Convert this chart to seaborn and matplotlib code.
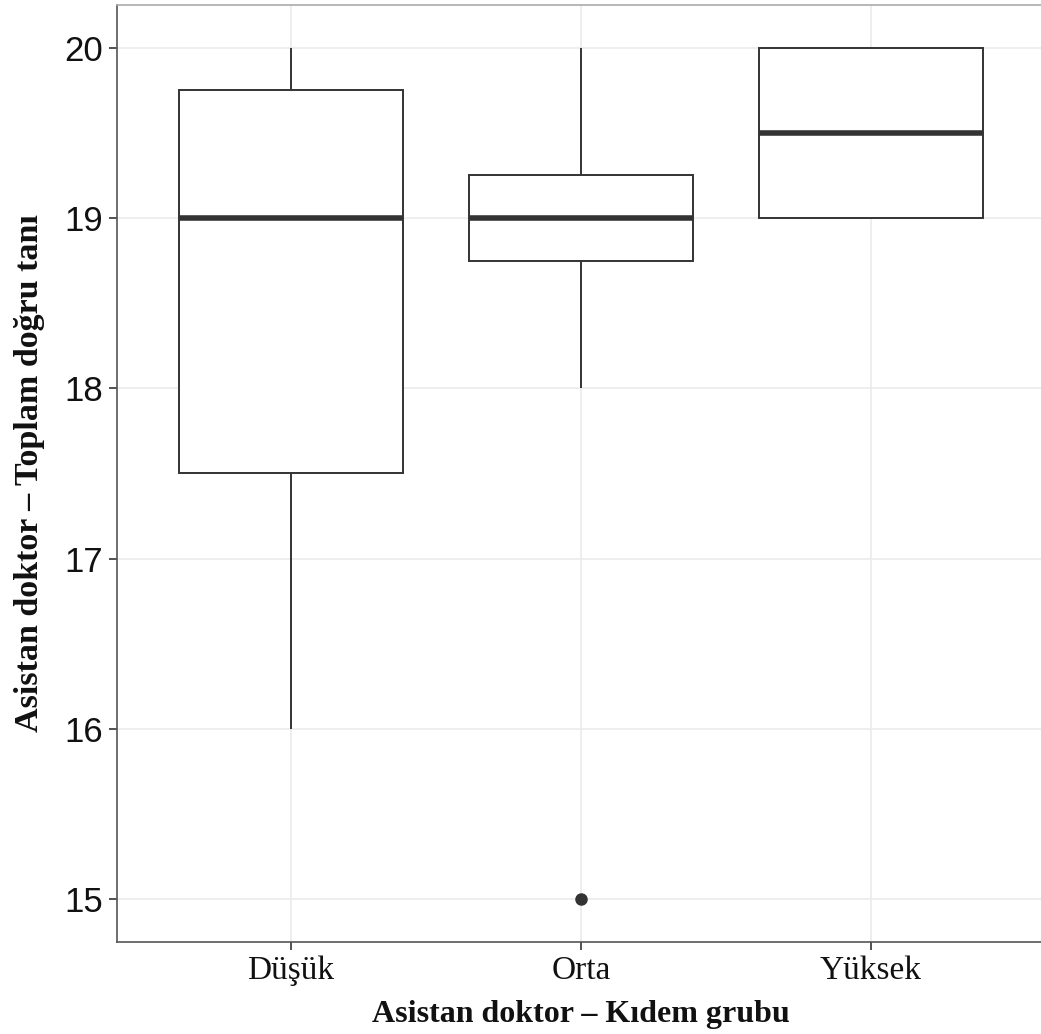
import numpy as np
import pandas as pd
import seaborn as sns
import matplotlib
matplotlib.use("Agg")
import matplotlib.pyplot as plt

categories = ["Düşük", "Orta", "Yüksek"]
dusuk_values = [16, 17, 19, 19, 20, 20]
orta_values = [15, 18, 19, 19, 19, 19, 20, 20]
yuksek_values = [19, 19, 20, 20]
y_ticks = [15, 16, 17, 18, 19, 20]

df = pd.DataFrame({
    "grup": (["Düşük"] * len(dusuk_values) + ["Orta"] * len(orta_values)
             + ["Yüksek"] * len(yuksek_values)),
    "deger": dusuk_values + orta_values + yuksek_values,
})

sns.set_theme(style="white")
plt.rcParams['font.family'] = ['Liberation Sans', 'DejaVu Sans']

fig = plt.figure(figsize=(10.41, 10.34), dpi=100)
ax = fig.add_axes([117 / 1041, 0.089, 928 / 1041, 0.9062])

line_c = "#333333"
sns.boxplot(data=df, x="grup", y="deger", order=categories, ax=ax,
            width=0.77, color="white", linecolor=line_c, linewidth=1.4,
            whis=1.5,
            boxprops=dict(facecolor="white", edgecolor=line_c),
            medianprops=dict(color=line_c, linewidth=4),
            whiskerprops=dict(color=line_c, linewidth=1.4),
            capprops=dict(linewidth=0),
            flierprops=dict(marker="o", markerfacecolor=line_c,
                            markeredgecolor=line_c, markersize=8))

ax.set_xlim(-0.6, 2.6)
ax.set_ylim(14.75, 20.25)
ax.set_yticks(y_ticks)
ax.set_yticklabels([str(t) for t in y_ticks], fontsize=25,
                   family=['Liberation Sans', 'DejaVu Sans'])
ax.set_xticks(range(len(categories)))
ax.set_xticklabels(categories, fontsize=24, family=['Liberation Serif', 'DejaVu Serif'])

ax.grid(True, color="#ebebeb", linewidth=1.2, zorder=0)
ax.set_axisbelow(True)
for s in ax.spines.values():
    s.set_visible(True)
    s.set_color("#555555")
    s.set_linewidth(1.2)
ax.spines["top"].set_color("#aaaaaa")
ax.tick_params(axis="both", direction="out", length=6, width=1.2,
               color="#333333", labelcolor="#111111", pad=4,
               left=True, bottom=True)

ax.set_xlabel("Asistan doktor – Kıdem grubu", fontsize=23, fontweight="bold",
              family=['Liberation Serif', 'DejaVu Serif'], labelpad=10, color="#111111")
ax.set_ylabel("Asistan doktor – Toplam doğru tanı", fontsize=24.5, fontweight="bold",
              family=['Liberation Serif', 'DejaVu Serif'], labelpad=14, color="#111111")

fig.savefig("out.png", dpi=100, facecolor="white")
